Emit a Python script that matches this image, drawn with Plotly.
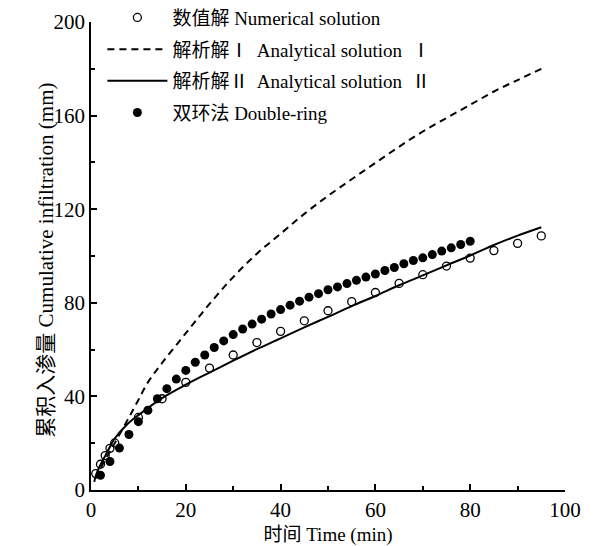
import plotly.graph_objects as go

# Numerical solution (open circles)
num_t = [1, 2, 3, 4, 5, 10, 15, 20, 25, 30, 35, 40, 45, 50, 55, 60, 65, 70, 75, 80, 85, 90, 95]
num_i = [7.0, 11.0, 14.7, 17.8, 20.1, 31.0, 39.0, 46.0, 52.1, 57.7, 63.0, 67.8, 72.3, 76.6, 80.5,
         84.4, 88.3, 92.0, 95.7, 99.1, 102.3, 105.4, 108.6]

# Analytical solution I (dashed)
an1_t = [1, 3, 5, 8, 10, 12, 15, 20, 25, 30, 35, 40, 45, 50, 55, 60, 65, 70, 75, 80, 85, 90, 95]
an1_i = [5.0, 13.0, 20.0, 31.0, 38.5, 46.0, 54.3, 67.0, 79.5, 91.0, 101.0, 109.5, 118.0, 125.7,
         132.8, 139.8, 146.7, 153.2, 159.0, 164.6, 170.3, 175.2, 180.0]

# Analytical solution II (solid)
an2_t = [0.7, 1, 2, 3, 4, 5, 7.5, 10, 15, 20, 25, 30, 35, 40, 45, 50, 55, 60, 65, 70, 75, 80, 85, 90, 95]
an2_i = [3.5, 6.0, 10.8, 14.6, 18.5, 22.0, 27.8, 32.0, 39.3, 45.0, 50.2, 55.3, 60.2, 64.8, 69.5,
         74.0, 78.6, 82.9, 87.5, 91.7, 96.0, 100.2, 104.7, 108.7, 112.3]

# Double-ring measurements (filled circles)
dr_t = [2, 4, 6, 8, 10, 12, 14, 16, 18, 20, 22, 24, 26, 28, 30, 32, 34, 36, 38, 40,
        42, 44, 46, 48, 50, 52, 54, 56, 58, 60, 62, 64, 66, 68, 70, 72, 74, 76, 78, 80]
dr_i = [6.3, 12.2, 17.9, 23.7, 29.2, 34.1, 39.0, 43.3, 47.4, 51.1, 54.6, 57.7, 60.9, 63.7,
        66.4, 68.8, 70.9, 73.0, 75.2, 77.1, 79.0, 80.7, 82.4, 83.9, 85.6, 86.8, 88.2, 89.6,
        91.0, 92.3, 93.8, 95.1, 96.7, 98.1, 99.2, 100.6, 102.1, 103.5, 104.9, 106.3]

names = ["数值解 Numerical solution",
         "解析解Ⅰ  Analytical solution  Ⅰ",
         "解析解Ⅱ  Analytical solution  Ⅱ",
         "双环法 Double-ring"]

FONT = "Liberation Serif, Times New Roman, Noto Sans CJK SC, serif"

fig = go.Figure()
fig.add_trace(go.Scatter(x=num_t, y=num_i, mode="markers", name=names[0], legendgroup="a",
                         marker=dict(symbol="circle-open", size=8, color="black",
                                     line=dict(width=1.3, color="black"))))
fig.add_trace(go.Scatter(x=an1_t, y=an1_i, mode="lines", name=names[1], legendgroup="b",
                         line=dict(color="black", width=2, dash="7px,5px", shape="spline")))
fig.add_trace(go.Scatter(x=an2_t, y=an2_i, mode="lines", name=names[2], legendgroup="c",
                         line=dict(color="black", width=2, shape="spline")))
fig.add_trace(go.Scatter(x=dr_t, y=dr_i, mode="markers", name=names[3], legendgroup="d",
                         marker=dict(symbol="circle", size=9, color="black")))

axis_common = dict(
    showline=True, linecolor="black", linewidth=1.5, mirror=False,
    ticks="inside", ticklen=6, tickwidth=1.5, tickcolor="black",
    showgrid=False, zeroline=False, automargin=False,
    tickfont=dict(family=FONT, size=21, color="black"),
)

fig.update_xaxes(range=[0, 100], dtick=20, tick0=0,
                 minor=dict(ticks="inside", ticklen=4, dtick=10, tickcolor="black", tickwidth=1.5),
                 title=dict(text="时间 Time (min)", font=dict(family=FONT, size=19, color="black"),
                            standoff=12),
                 **axis_common)
fig.update_yaxes(range=[0, 200], dtick=40, tick0=0,
                 minor=dict(ticks="inside", ticklen=4, dtick=20, tickcolor="black", tickwidth=1.5),
                 **axis_common)

fig.add_annotation(text="累积入渗量 Cumulative infiltration (mm)",
                   xref="paper", yref="paper", x=0, y=0.49, xanchor="center", yanchor="middle",
                   xshift=-45, textangle=-90, showarrow=False,
                   font=dict(family=FONT, size=21, color="black"))

fig.update_layout(
    width=595, height=546,
    margin=dict(l=91, r=30, t=22, b=56, autoexpand=False),
    paper_bgcolor="white", plot_bgcolor="white",
    font=dict(family=FONT, size=18, color="black"),
    legend=dict(x=0.024, y=1.05, xanchor="left", yanchor="top",
                bgcolor="rgba(0,0,0,0)", itemwidth=60, tracegroupgap=4,
                font=dict(family=FONT, size=19, color="black")),
    showlegend=True,
)

fig.write_html("out.html")
